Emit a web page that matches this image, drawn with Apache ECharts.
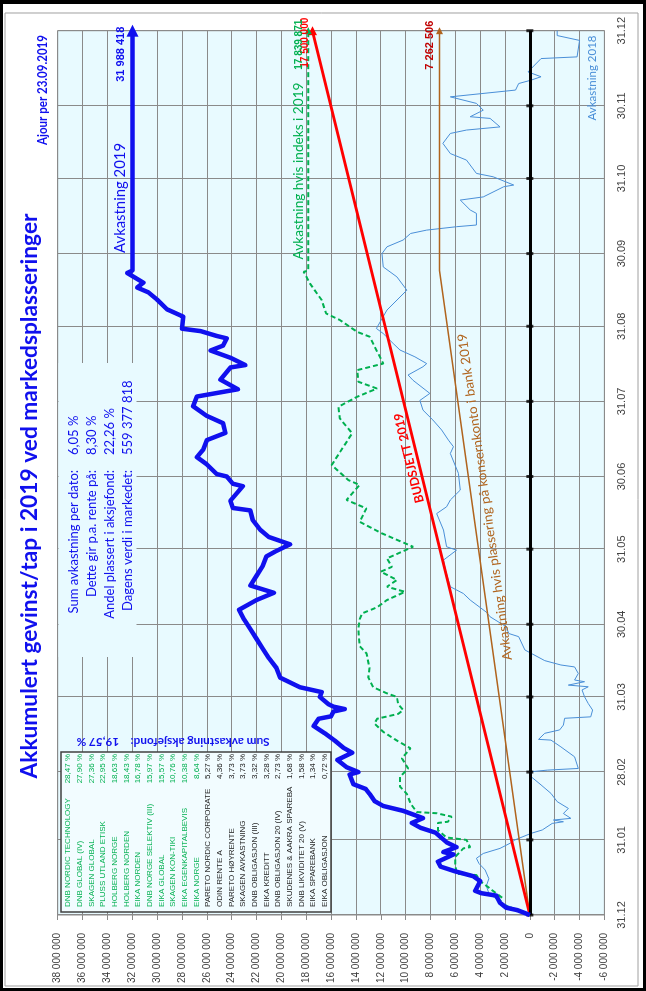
<!DOCTYPE html>
<html><head><meta charset="utf-8">
<script src="https://cdn.jsdelivr.net/npm/echarts@6/dist/echarts.min.js"></script>
<style>
html,body{margin:0;padding:0;background:#000;width:646px;height:991px;overflow:hidden}
#wrap{position:absolute;left:0;top:0;width:991px;height:646px;transform-origin:0 0;transform:translateY(991px) rotate(-90deg);}
#frame{position:absolute;left:3px;top:3px;width:984px;height:640px;background:#fff}
#chart{position:absolute;left:0;top:0;width:991px;height:646px}
</style></head>
<body><div id="wrap"><div id="frame"></div><div id="chart"></div></div>
<script>
// ---- time axis: days after 31.12.2018 ----
const monthEndDays = [0,31,59,90,120,151,181,212,243,273,304,334,365];
const monthEndLabels = ['31.12','31.01','28.02','31.03','30.04','31.05','30.06','31.07','31.08','30.09','31.10','30.11','31.12'];

// ---- values in millions NOK ----
const days2019 = [0,2,3,5,8,9,10,11,14,16,18,20,22,25,26,28,30,34,36,38,40,43,45,47,50,52,54,58,59,61,64,67,69,72,75,78,81,82,84,85,86,87,90,92,94,98,102,106,110,114,118,122,126,130,133,136,140,144,148,150,153,156,159,163,167,168,171,174,177,178,181,182,186,189,192,196,199,203,206,210,214,217,221,226,227,230,233,235,238,239,241,242,247,250,254,257,259,261,265,266,365];
const akk2019  = [0,1.0,1.9,2.4,2.7,3.9,4.4,4.3,4.0,4.55,6.0,7.2,7.4,6.15,6.96,5.9,6.7,7.6,8.8,9.5,8.6,10.2,11.8,12.5,12.9,13.2,14.2,14.5,13.8,14.75,15.5,14.3,15.0,15.7,16.5,17.4,17.0,16.0,15.8,14.9,15.8,16.2,16.9,16.75,18.5,20.1,20.4,21.0,21.5,22.0,22.5,23.0,23.4,22.0,20.6,22.5,22.0,21.5,21.2,20.5,19.3,21.0,21.7,22.3,22.5,23.9,24.1,23.6,23.1,23.9,24.4,25.2,26.0,26.8,26.3,26.0,24.5,24.7,26.0,27.1,26.8,23.5,24.9,24.1,22.9,24.1,25.7,24.7,24.4,25.2,26.5,28.0,27.9,29.2,30.0,30.7,31.6,31.1,32.4,31.988418,31.988418];

const daysIndex = [0,5,7,14,16.5,17,21,24,27.5,28,31,32,35,38,38.5,40.6,42,42.5,46,50,53,57,60.5,64.7,68.8,72,75.6,79,81,83,84.6,87,90,91.5,94,98,102,108,111,118,122,124.5,127,130,133.4,135.5,138.3,141.7,143.7,147.2,152,157.5,162.3,167.8,171.3,177.5,179.5,185.7,193.3,198.8,205,209.8,213.9,217.3,220.1,224.9,227.6,238.7,240.7,245.6,248.3,253.8,260.7,265.5,266,365];
const index2019 = [0,2.5,2.2,4.0,4.3,5.9,6.0,6.0,5.35,4.8,5.1,6.7,7.4,7.4,6.6,6.3,7.5,9.1,9.6,9.9,10.45,10.45,9.8,10.3,9.6,10.7,11.8,12.5,12.3,10.6,10.2,10.6,10.7,11.5,12.6,13.0,12.9,13.15,13.7,13.8,13.7,13.5,12.3,11.5,10.05,11.5,10.7,12.0,11.1,11.5,9.4,11.9,13.7,13.15,14.75,13.7,14.6,15.95,15.0,14.3,15.3,15.4,13.9,12.3,13.8,13.9,11.8,12.9,13.9,15.3,16.4,16.75,17.7,18.2,17.839871,17.839871];

const days2018 = [0,5,9,12,15,18.6,21.3,23.4,25.4,27.5,29.6,31,33.7,35.1,37.8,38.5,39.2,39.9,41.9,44,46.8,50.2,53.7,57.1,59.1,59.8,60.5,65.3,69.4,72.2,72.5,75,76.4,78.4,81.2,81.8,84.6,87.3,90.1,92.9,94.2,94.9,96.3,97,99.7,102.4,103.2,105,109.4,114.9,116.2,119,123.1,125,130,132.7,135.5,142.4,146.5,150.6,152,158.9,165.7,168.5,171.3,175.4,182.3,190.5,193.3,196,200.2,204.3,208.4,212.4,215.3,220.7,222.9,226.3,227.6,230.4,233.2,235.9,240,242.1,249.7,257.9,263.4,267.5,273,275.8,278.6,281.3,282.7,284.1,284.8,289.6,291,295.1,296.4,300.6,301.3,304.7,306.1,311.6,314.3,318.5,322.6,324,325.3,328.8,329.5,332.2,335,337.7,340.5,343.2,344.6,346,348,353.5,354.2,361,363,365];
const akk2018  = [0,2.3,3.3,3.5,3.3,3.6,4.1,4.3,3.75,2.4,1.6,1.2,-0.1,-1.0,-1.8,-2.7,-1.9,-3.3,-2.7,-3.1,-2.2,-1.7,-0.9,-0.1,0,-1.4,-3.9,-3.6,-2.5,-1.7,-0.7,-1.2,-2.4,-2.7,-2.8,-4.9,-5.05,-4.7,-4.4,-4.2,-4.7,-3.1,-4.4,-3.6,-3.9,-3.6,-2.5,-1.2,0.4,0.9,1.7,1.9,3.2,3.5,4.8,5.35,6.4,6.8,6.95,5.9,6.7,6.95,7.5,6.7,6.4,5.6,5.75,6.4,6.15,6.55,7.1,7.8,8.6,8.85,8.05,9.4,9.8,8.6,8.3,9.25,10.45,11.0,11.8,12.35,11.5,9.9,10.7,11.8,11.9,11.5,10.2,9.6,8.3,5.9,4.3,4.3,4.8,5.6,3.75,2.1,1.3,2.95,4.3,5.1,6.4,7.0,6.4,5.1,2.4,3.2,4.8,3.75,4.3,6.4,1.15,0.9,-0.1,-0.9,0.15,-0.9,-3.8,-4.0,-2.2,-2.2];

const budgetDays = [0,365];
const budget2019 = [0,17.5];
const bankDays = [0,266,365];
const bank2019 = [0,7.262506,7.262506];

// ---- texts ----
const titleText = 'Akkumulert gevinst/tap i 2019 ved markedsplasseringer';
const ajourText = 'Ajour per 23.09.2019';
const statLabels = ['Sum avkastning per dato:','Dette gir p.a. rente på:','Andel plassert i aksjefond:','Dagens verdi i markedet:'];
const statValues = ['6,05 %','8,30 %','22,26 %','559 377 818'];
const fundNames = ['DNB NORDIC TECHNOLOGY','DNB GLOBAL (IV)','SKAGEN GLOBAL','PLUSS UTLAND ETISK','HOLBERG NORGE','HOLBERG NORDEN','EIKA NORDEN','DNB NORGE SELEKTIV (III)','EIKA GLOBAL','SKAGEN KON-TIKI','EIKA EGENKAPITALBEVIS','EIKA NORGE','PARETO NORDIC CORPORATE','ODIN RENTE A','PARETO HØYRENTE','SKAGEN AVKASTNING','DNB OBLIGASJON (III)','EIKA KREDITT','DNB OBLIGASJON 20 (IV)','SKUDENES & AAKRA SPAREBA','DNB LIKVIDITET 20 (V)','EIKA SPAREBANK','EIKA OBLIGASJON'];
const fundReturns = ['28,47 %','27,90 %','27,36 %','22,95 %','18,63 %','18,43 %','16,78 %','15,97 %','15,57 %','10,76 %','10,38 %','8,64 %','5,27 %','4,36 %','3,73 %','3,73 %','3,32 %','3,28 %','2,73 %','1,68 %','1,58 %','1,34 %','0,72 %'];
const equityFundCount = 12;
const sumAksjefond = 'Sum avkastning aksjefond:    19,57 %';

function fmt(m){ const n = Math.round(m*1e6); const s = Math.abs(n).toString().replace(/\B(?=(\d{3})+(?!\d))/g,' '); return (n<0?'-':'')+s; }

const mctx = document.createElement('canvas').getContext('2d');
function fitScale(text, font, target){ mctx.font = font; const w = mctx.measureText(text).width; return w > 0 ? target / w : 1; }

function pairs(days, vals, end){
  return days.map((d,i)=>{
    if (end && i===days.length-1) {
      return {value:[d, vals[i]], symbol:'triangle', symbolSize:end.size, symbolRotate:-90,
        label:{show:true, position:'top', align:'right', distance:end.dist, offset:end.offset,
          formatter: fmt(vals[i]), color:end.color, fontSize:end.fs, fontWeight:'bold', fontFamily:'Liberation Sans'}};
    }
    return [d, vals[i]];
  });
}

const BLUE='#1010EE', GREEN='#00B050', RED='#FF0000', BROWN='#B0641E', LBLUE='#4A8FD8';
const gridCol = '#8a8a8a';
const chart = echarts.init(document.getElementById('chart'), null, {width:991, height:646});

const option = {
  animation:false,
  grid:{left:76, right:30.7, top:57.7, bottom:41.6, show:true, backgroundColor:'#E8FAFF', borderColor:gridCol, borderWidth:1},
  xAxis:{type:'value', min:0, max:365,
    axisLine:{show:false},
    axisTick:{show:false, customValues: monthEndDays},
    axisLabel:{customValues: monthEndDays, formatter:v=>monthEndLabels[monthEndDays.indexOf(v)]||'', margin:12, fontSize:11, color:'#404040', fontFamily:'Liberation Sans'},
    splitLine:{show:true, lineStyle:{color:gridCol, width:1}}},
  yAxis:{type:'value', min:-6, max:38, interval:2,
    axisLine:{show:false},
    axisTick:{show:true, length:5, lineStyle:{color:gridCol}},
    axisLabel:{formatter:v=>fmt(v), margin:18, fontSize:10, color:'#404040', fontFamily:'Liberation Sans'},
    splitLine:{show:true, lineStyle:{color:gridCol, width:1}}},
  series:[
    {type:'line', name:'Avkastning 2018', data:pairs(days2018, akk2018), symbol:'none', z:2, silent:true,
      lineStyle:{color:LBLUE, width:1}, itemStyle:{color:LBLUE},
      markLine:{silent:true, symbol:'none', label:{show:false}, lineStyle:{color:'#000', width:3, type:'solid'}, data:[{yAxis:0}]}},
    {type:'scatter', data: monthEndDays.map(d=>[d,0]), symbol:'rect', symbolSize:[3,7], itemStyle:{color:'#000'}, z:3, silent:true},
    {type:'line', name:'Bank', data:pairs(bankDays, bank2019, {size:7, dist:1, offset:[10,0], color:'#C00000', fs:11}), symbol:'none', showSymbol:true, z:3, silent:true,
      lineStyle:{color:BROWN, width:1.5}, itemStyle:{color:BROWN}},
    {type:'line', name:'Budsjett', data:pairs(budgetDays, budget2019, {size:9, dist:-2, offset:[13,0], color:RED, fs:10}), symbol:'none', showSymbol:true, z:4, silent:true,
      lineStyle:{color:RED, width:3}, itemStyle:{color:RED}},
    {type:'line', name:'Indeks', data:pairs(daysIndex, index2019, {size:7, dist:0, offset:[11,0], color:GREEN, fs:10}), symbol:'none', showSymbol:true, z:4, silent:true,
      lineStyle:{color:GREEN, width:2, type:[5,3]}, itemStyle:{color:GREEN}},
    {type:'line', name:'Avkastning 2019', data:pairs(days2019, akk2019, {size:12, dist:0, offset:[4,0], color:BLUE, fs:11}), symbol:'none', showSymbol:true, z:5, silent:true,
      lineStyle:{color:BLUE, width:4.5, join:'round'}, itemStyle:{color:BLUE}}
  ]
};
chart.setOption(option);

// ---- annotations ----
const g = [];
function txt(o){
  const font = o.font;
  const sx = o.width ? fitScale(o.text, font, o.width) : 1;
  g.push({type:'text', x:o.x, y:o.y, rotation:o.rot||0, scaleX:sx, z:11, silent:true,
    style:{text:o.text, font:font, fill:o.fill, align:o.align||'center', verticalAlign:'middle'}});
}
g.push({type:'rect', shape:{x:5, y:5, width:973, height:633}, style:{fill:null, stroke:'#a0a0a0', lineWidth:1}, z:10, silent:true});
txt({x:495, y:30, text:titleText, font:'bold 23px Lato', fill:BLUE, width:565});
txt({x:956, y:42, text:ajourText, font:'bold 14px Lato', fill:BLUE, align:'right', width:110});
// stats box
g.push({type:'rect', shape:{x:334, y:58.5, width:294, height:78}, style:{fill:'#E8FAFF'}, z:10, silent:true});
statLabels.forEach((t,i)=>{
  const y = 74 + i*18;
  txt({x:521, y:y, text:t, font:'13px Lato', fill:BLUE, align:'right'});
  txt({x:536, y:y, text:statValues[i], font:'13px Lato', fill:BLUE, align:'left'});
});
// fund table
g.push({type:'rect', shape:{x:79, y:61, width:160, height:270}, style:{fill:'#F2FCFF', stroke:'#404040', lineWidth:1.5}, z:10, silent:true});
fundNames.forEach((t,i)=>{
  const y = 68 + i*11.68;
  const col = i < equityFundCount ? GREEN : '#202020';
  txt({x:84, y:y, text:t, font:'8px Liberation Sans', fill:col, align:'left'});
  txt({x:237, y:y, text:fundReturns[i], font:'8px Liberation Sans', fill:col, align:'right'});
});
txt({x:249, y:173, rot:Math.PI/2, text:sumAksjefond, font:'bold 12px Lato', fill:BLUE, width:193});
// line annotations
const p0 = chart.convertToPixel({gridIndex:0}, [budgetDays[0], budget2019[0]]);
const p1 = chart.convertToPixel({gridIndex:0}, [budgetDays[1], budget2019[1]]);
const budAngle = Math.atan2(p0[1]-p1[1], p1[0]-p0[0]);
const b0 = chart.convertToPixel({gridIndex:0}, [bankDays[0], bank2019[0]]);
const b1 = chart.convertToPixel({gridIndex:0}, [bankDays[1], bank2019[1]]);
const bankAngle = Math.atan2(b0[1]-b1[1], b1[0]-b0[0]);
txt({x:793, y:120, text:'Avkastning 2019', font:'15px Lato', fill:BLUE, width:110});
txt({x:820, y:299, text:'Avkastning hvis indeks i 2019', font:'13.5px Lato', fill:GREEN, width:177});
txt({x:533, y:409, rot:budAngle, text:'BUDSJETT 2019', font:'bold 12.5px Lato', fill:RED, width:92});
txt({x:494, y:485, rot:bankAngle, text:'Avkastning hvis plassering på konsernkonto i bank 2019', font:'13px Lato', fill:BROWN, width:330});
txt({x:913, y:592, text:'Avkastning 2018', font:'12px Lato', fill:LBLUE, width:85});
chart.setOption({graphic:{elements:g}});
</script>
</body></html>
